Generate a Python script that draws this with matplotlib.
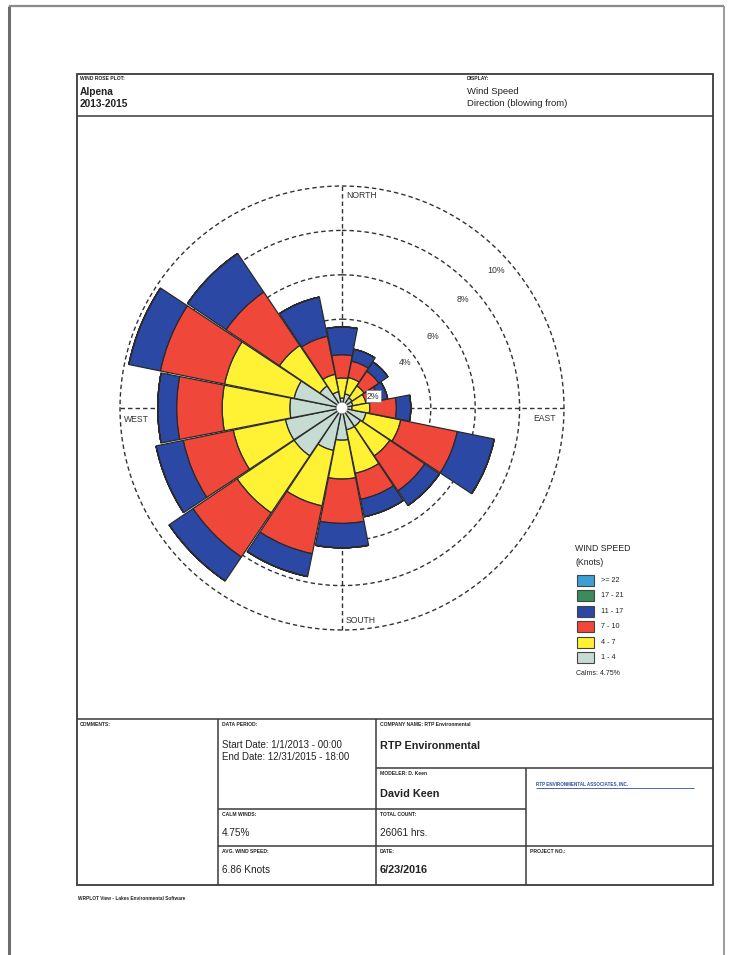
import numpy as np
import matplotlib
matplotlib.use("Agg")
import matplotlib.pyplot as plt
from matplotlib.patches import Rectangle

plt.rcParams['font.family'] = ['Liberation Sans', 'DejaVu Sans']

# ---------------- data ----------------
directions = ['N', 'NNE', 'NE', 'ENE', 'E', 'ESE', 'SE', 'SSE',
              'S', 'SSW', 'SW', 'WSW', 'W', 'WNW', 'NW', 'NNW']
# frequency (%) per speed class and direction (blowing from)
spd_1_4 = [0.45, 0.65, 0.55, 0.50, 0.45, 1.10, 1.00, 1.00,
           1.45, 1.95, 2.60, 2.60, 2.35, 2.20, 1.20, 0.75]
spd_4_7 = [0.90, 0.75, 0.65, 0.60, 0.80, 1.60, 1.60, 2.00,
           1.75, 2.55, 3.10, 2.40, 3.05, 3.20, 2.20, 0.80]
spd_7_10 = [1.05, 0.75, 0.80, 0.60, 1.20, 2.60, 1.90, 1.20,
            2.00, 2.20, 2.40, 2.30, 2.05, 2.95, 2.90, 1.75]
spd_11_17 = [1.25, 0.55, 0.50, 0.40, 0.65, 1.70, 0.80, 0.80,
             1.10, 1.05, 1.30, 1.25, 0.85, 1.45, 2.10, 1.80]
spd_17_21 = [0.0] * 16
spd_ge_22 = [0.0] * 16
class_labels = ['1 - 4', '4 - 7', '7 - 10', '11 - 17', '17 - 21', '>= 22']
class_colors = ['#c6dbd2', '#fff134', '#f0473b', '#2b48a4', '#3a8c5c', '#3d9fd6']
calms = 4.75
ring_values = [2, 4, 6, 8, 10]

W, H = 732, 955
fig = plt.figure(figsize=(W / 100, H / 100), dpi=100)
fig.patch.set_facecolor('white')

# ---------------- page overlay (pixel coordinates) ----------------
ov = fig.add_axes([0, 0, 1, 1], zorder=0)
ov.set_xlim(0, W)
ov.set_ylim(H, 0)
ov.axis('off')

def line(x0, y0, x1, y1, lw=1.1, c='#3a3a3a'):
    ov.plot([x0, x1], [y0, y1], color=c, lw=lw, solid_capstyle='butt')

# scanned page edge
line(9, 6, 9, 955, lw=2.2, c='#6e6e6e')
line(9, 6, 724, 6, lw=1.6, c='#8a8a8a')
line(724, 6, 724, 955, lw=1.4, c='#9a9a9a')

# main frame
ov.add_patch(Rectangle((77, 74), 636, 811, fill=False, ec='#3a3a3a', lw=1.3))
line(77, 116, 713, 116)
line(77, 719, 713, 719)
line(218, 719, 218, 885)
line(376, 719, 376, 885)
line(526, 768, 526, 885)
line(376, 768, 713, 768)
line(218, 809, 526, 809)
line(218, 846, 713, 846)

def t(x, y, s, size=7, bold=False, color='#222222', **kw):
    ov.text(x, y, s, fontsize=size, fontweight='bold' if bold else 'normal',
            color=color, ha='left', va='center', **kw)

small = 3.6
t(80, 79, 'WIND ROSE PLOT:', small, True)
t(80, 92, 'Alpena', 7.3, True)
t(80, 104, '2013-2015', 7.3, True)
t(467, 79, 'DISPLAY:', small, True)
t(467, 92, 'Wind Speed', 6.8)
t(467, 103, 'Direction (blowing from)', 6.8)

t(80, 724, 'COMMENTS:', small, True)
t(222, 724, 'DATA PERIOD:', small, True)
t(222, 745, 'Start Date: 1/1/2013 - 00:00', 7.0)
t(222, 757, 'End Date: 12/31/2015 - 18:00', 7.0)
t(380, 724, 'COMPANY NAME: RTP Environmental', small, True)
t(380, 746, 'RTP Environmental', 7.8, True)
t(380, 773, 'MODELER: D. Keen', small, True)
t(380, 794, 'David Keen', 7.8, True)
t(536, 784, 'RTP ENVIRONMENTAL ASSOCIATES, INC.', 3.3, True, color='#3050a8')
line(536, 788, 694, 788, lw=0.6, c='#3050a8')
t(222, 814, 'CALM WINDS:', small, True)
t(222, 833, '4.75%', 7.2)
t(380, 814, 'TOTAL COUNT:', small, True)
t(380, 833, '26061 hrs.', 7.2)
t(222, 851, 'AVG. WIND SPEED:', small, True)
t(222, 870, '6.86 Knots', 7.2)
t(380, 851, 'DATE:', small, True)
t(380, 870, '6/23/2016', 7.8, True)
t(530, 851, 'PROJECT NO.:', small, True)
t(78, 898, 'WRPLOT View - Lakes Environmental Software', 3.4, True)

# legend
t(575, 548, 'WIND SPEED', 6.3)
t(575, 562, '(Knots)', 6.3)
leg_order = list(range(len(class_labels)))[::-1]
for i, k in enumerate(leg_order):
    y = 580 + 15.5 * i
    ov.add_patch(Rectangle((577, y - 5.5), 17, 11, fc=class_colors[k],
                           ec='#444444', lw=0.8))
    t(601, y, class_labels[k], 5.2)
t(576, 673, 'Calms: %.2f%%' % calms, 5.0)

# ---------------- wind rose ----------------
cx, cy, R = 342, 408, 222
ax = fig.add_axes([(cx - R) / W, 1 - (cy + R) / H, 2 * R / W, 2 * R / H],
                  projection='polar', zorder=1)
ax.set_facecolor('none')
ax.set_theta_zero_location('N')
ax.set_theta_direction(-1)
ax.set_ylim(0, ring_values[-1])
ax.grid(False)
ax.set_xticks([])
ax.set_yticks([])
ax.spines['polar'].set_visible(False)

full = np.linspace(0, 2 * np.pi, 400)
dash = (0, (3.2, 2.2))
for rv in ring_values:
    ax.plot(full, np.full_like(full, rv), color='#333333', lw=1.0,
            linestyle=dash, zorder=1, clip_on=False)
for ang in [0, 90, 180, 270]:
    a = np.deg2rad(ang)
    ax.plot([a, a], [0, ring_values[-1]], color='#333333', lw=1.0,
            linestyle=dash, zorder=1, clip_on=False)

theta = np.deg2rad(np.arange(len(directions)) * 360.0 / len(directions))
width = np.deg2rad(360.0 / len(directions)) * 0.975
series = [spd_1_4, spd_4_7, spd_7_10, spd_11_17, spd_17_21, spd_ge_22]
bottom = np.zeros(len(directions))
for vals, col in zip(series, class_colors):
    v = np.array(vals)
    ax.bar(theta, v, width=width, bottom=bottom, color=col,
           edgecolor='#2a2a2a', linewidth=0.9, zorder=3, align='center')
    bottom = bottom + v

# calm circle
ax.fill(full, np.full_like(full, 0.26), facecolor='white',
        edgecolor='#777777', linewidth=0.5, zorder=4)

# ring labels
ring_lbl_pos = [(69, 1.5), (54.5, 3.5), (51.5, 5.2), (48, 7.3), (48.3, 9.3)]
for rv, (ang, rr) in zip(ring_values, ring_lbl_pos):
    kw = {}
    if rv == 2:
        kw['bbox'] = dict(boxstyle='square,pad=0.15', fc='white', ec='#777777', lw=0.5)
    ax.text(np.deg2rad(ang), rr, '%d%%' % rv, fontsize=6.3, color='#333333',
            ha='center', va='center', zorder=6, **kw)

# cardinal labels
t(346, 195, 'NORTH', 6.2, color='#333333')
t(533, 418, 'EAST', 6.2, color='#333333')
t(346, 620, 'SOUTH', 6.2, color='#333333')
t(124, 419, 'WEST', 6.2, color='#333333')

fig.savefig('out.png', dpi=100, facecolor='white')
